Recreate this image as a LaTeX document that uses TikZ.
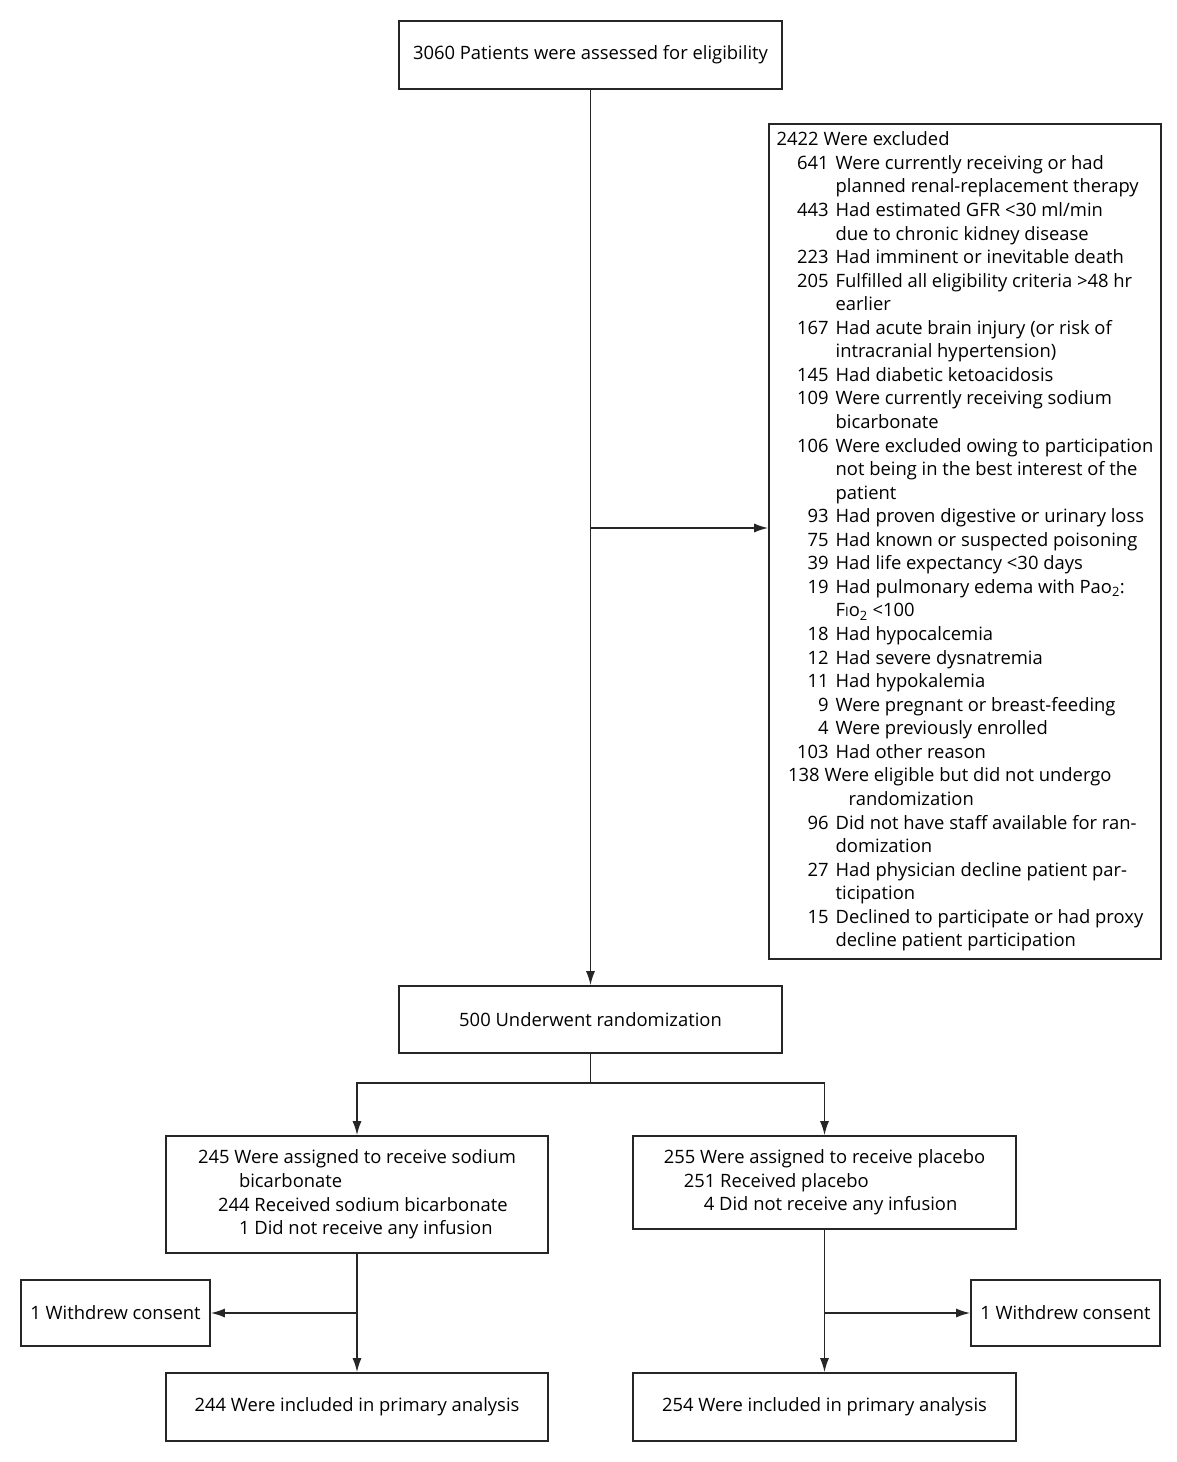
\documentclass[tikz,border=0pt]{standalone}
\usepackage{fontspec}
\setmainfont{Open Sans}
\usetikzlibrary{arrows.meta}
\tikzstyle{box} = [rectangle, draw=black!85, line width=1.6pt, align=left,
    inner sep=6pt, font=\fontsize{18.4}{23.56}\selectfont]
\tikzstyle{wide} = [box, minimum width=383pt]
\tikzstyle{small} = [box, minimum width=189pt, minimum height=66pt]
\tikzstyle{line} = [draw, black!85, line width=1.6pt, -{Latex[length=14pt,width=9pt]}]
\newcommand{\nr}[1]{\makebox[52pt][r]{#1}\hspace{7pt}}
\newcommand{\cont}{\hspace*{59pt}}

\begin{document}
\begin{tikzpicture}[x=1pt, y=-1pt]
    \useasboundingbox (0,0) rectangle (1176,1462);
    \node[wide, minimum height=68pt] (init) at (590.5,55) {3060 Patients were assessed for eligibility};
    \node[box, minimum width=392pt, minimum height=835pt] (excl) at (965,541.5) {2422 Were excluded\\
        \nr{641}Were currently receiving or had\\
        \cont planned renal-replacement therapy\\
        \nr{443}Had estimated GFR <30 ml/min\\
        \cont due to chronic kidney disease\\
        \nr{223}Had imminent or inevitable death\\
        \nr{205}Fulfilled all eligibility criteria >48 hr\\
        \cont earlier\\
        \nr{167}Had acute brain injury (or risk of\\
        \cont intracranial hypertension)\\
        \nr{145}Had diabetic ketoacidosis\\
        \nr{109}Were currently receiving sodium\\
        \cont bicarbonate\\
        \nr{106}Were excluded owing to participation\\
        \cont not being in the best interest of the\\
        \cont patient\\
        \nr{93}Had proven digestive or urinary loss\\
        \nr{75}Had known or suspected poisoning\\
        \nr{39}Had life expectancy <30 days\\
        \nr{19}Had pulmonary edema with Pao\textsubscript{2}:\\
        \cont F{\fontsize{13}{13}\selectfont I}o\textsubscript{2} <100\\
        \nr{18}Had hypocalcemia\\
        \nr{12}Had severe dysnatremia\\
        \nr{11}Had hypokalemia\\
        \nr{9}Were pregnant or breast-feeding\\
        \nr{4}Were previously enrolled\\
        \nr{103}Had other reason\\
        \makebox[43pt][r]{138}\hspace{5pt}Were eligible but did not undergo\\
        \hspace*{72pt}randomization\\
        \nr{96}Did not have staff available for ran-\\
        \cont domization\\
        \nr{27}Had physician decline patient par-\\
        \cont ticipation\\
        \nr{15}Declined to participate or had proxy\\
        \cont decline patient participation};
    \node[wide, minimum height=67pt] (rand) at (590.5,1019.5) {500 Underwent randomization};
    \node[wide, minimum width=382pt, minimum height=117pt] (bicarb) at (357,1194.5) {245 Were assigned to receive sodium\\
        \hspace*{41pt}bicarbonate\\
        \hspace*{20pt}244 Received sodium bicarbonate\\
        \hspace*{41pt}1 Did not receive any infusion};
    \node[wide, minimum height=93pt] (placebo) at (824.5,1182.5) {255 Were assigned to receive placebo\\
        \hspace*{20pt}251 Received placebo\\
        \hspace*{40pt}4 Did not receive any infusion};
    \node[small] (wl) at (115.5,1313) {1 Withdrew consent};
    \node[small] (wr) at (1065.5,1313) {1 Withdrew consent};
    \node[wide, minimum width=382pt, minimum height=68pt] (al) at (357,1407) {244 Were included in primary analysis};
    \node[wide, minimum height=68pt] (ar) at (824.5,1407) {254 Were included in primary analysis};

    \coordinate (s1) at (590.5,528);
    \coordinate (fork) at (590.5,1083);
    \coordinate (bl) at (357,1313);
    \coordinate (br) at (824.5,1313);

    \path[line] (init) -- (rand);
    \path[line] (s1) -- (s1 -| excl.west);
    \draw[black!85, line width=1.6pt] (rand) -- (fork);
    \path[line] (fork) -| (bicarb);
    \path[line] (fork) -| (placebo);
    \path[line] (bicarb) -- (al);
    \path[line] (bl) -- (wl);
    \path[line] (placebo) -- (ar);
    \path[line] (br) -- (wr);
\end{tikzpicture}
\end{document}
